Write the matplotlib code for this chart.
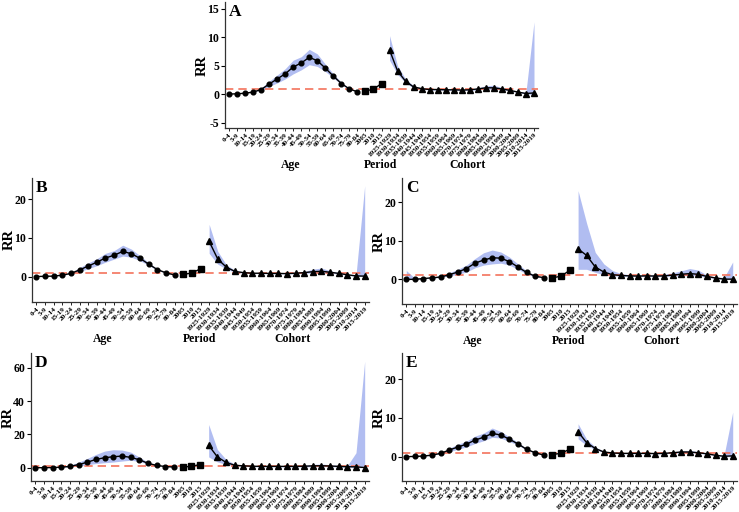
import numpy as np
import matplotlib
matplotlib.use("Agg")
import matplotlib.pyplot as plt
from matplotlib.transforms import blended_transform_factory

ages = ["0-4", "5-9", "10-14", "15-19", "20-24", "25-29", "30-34", "35-39", "40-44",
        "45-49", "50-54", "55-59", "60-64", "65-69", "70-74", "75-79", "80-84"]
periods = ["2005", "2010", "2015"]
cohorts = ["1925-1929", "1930-1934", "1935-1939", "1940-1944", "1945-1949", "1950-1954",
           "1955-1959", "1960-1964", "1965-1969", "1970-1974", "1975-1979", "1980-1984",
           "1985-1989", "1990-1994", "1995-1999", "2000-2004", "2005-2009", "2010-2014",
           "2015-2019"]

# ---- Panel A ----
age_A = [0.05, 0.1, 0.2, 0.4, 0.85, 1.8, 2.7, 3.6, 4.8, 5.5, 6.5, 5.9, 4.6, 3.2, 1.9, 0.95, 0.45]
age_lo_A = [0.05, 0.1, 0.2, 0.4, 0.8, 1.4, 2.0, 2.7, 3.6, 4.3, 5.2, 4.9, 4.0, 2.9, 1.7, 0.9, 0.4]
age_hi_A = [0.05, 0.1, 0.2, 0.45, 1.1, 2.3, 3.4, 4.5, 6.0, 6.6, 7.9, 7.1, 5.3, 3.6, 2.1, 1.0, 0.5]
per_A = [0.6, 0.9, 1.9]
coh_A = [7.8, 4.1, 2.3, 1.3, 1.0, 0.85, 0.85, 0.8, 0.8, 0.75, 0.8, 0.95, 1.15, 1.15, 0.95, 0.7, 0.4, 0.15, 0.25]
coh_lo_A = [6.0, 3.5, 2.0, 1.1, 0.9, 0.75, 0.75, 0.7, 0.7, 0.65, 0.7, 0.8, 0.9, 0.9, 0.8, 0.6, 0.3, 0.05, 0.0]
coh_hi_A = [10.3, 5.0, 2.7, 1.5, 1.15, 1.0, 0.95, 0.9, 0.9, 0.85, 0.95, 1.15, 1.5, 1.6, 1.2, 0.85, 0.5, 0.4, 12.7]

# ---- Panel B ----
age_B = [0.0, 0.05, 0.1, 0.35, 0.8, 1.7, 2.7, 3.7, 4.8, 5.5, 6.5, 5.9, 4.7, 3.2, 1.8, 0.95, 0.4]
age_lo_B = [0.0, 0.05, 0.1, 0.3, 0.7, 1.3, 2.0, 2.8, 3.7, 4.5, 5.3, 5.0, 4.1, 2.9, 1.6, 0.9, 0.35]
age_hi_B = [0.0, 0.05, 0.1, 0.4, 1.0, 2.3, 3.5, 4.6, 6.0, 6.7, 8.1, 7.1, 5.4, 3.6, 2.0, 1.0, 0.45]
per_B = [0.55, 0.9, 2.0]
coh_B = [9.1, 4.5, 2.4, 1.3, 1.0, 0.85, 0.85, 0.8, 0.8, 0.75, 0.85, 1.0, 1.25, 1.35, 1.1, 0.8, 0.45, 0.15, 0.1]
coh_lo_B = [6.0, 3.2, 1.9, 1.1, 0.85, 0.75, 0.75, 0.7, 0.7, 0.65, 0.7, 0.8, 0.95, 1.0, 0.85, 0.65, 0.3, 0.05, 0.0]
coh_hi_B = [13.5, 6.5, 3.0, 1.6, 1.2, 1.0, 0.95, 0.9, 0.9, 0.9, 1.0, 1.3, 1.9, 2.2, 1.5, 1.0, 0.6, 0.5, 23.5]

# ---- Panel C ----
age_C = [0.0, 0.0, 0.2, 0.4, 0.6, 1.2, 1.9, 2.8, 4.2, 5.0, 5.6, 5.5, 4.6, 3.2, 1.8, 0.8, 0.45]
age_lo_C = [0.0, 0.0, 0.1, 0.3, 0.5, 0.9, 1.3, 1.9, 3.0, 3.7, 4.0, 4.2, 3.7, 2.6, 1.4, 0.6, 0.35]
age_hi_C = [2.3, 0.3, 0.4, 0.6, 0.9, 1.7, 2.6, 3.7, 5.4, 6.9, 7.6, 7.1, 5.8, 4.0, 2.2, 1.0, 0.55]
per_C = [0.4, 0.8, 2.3]
coh_C = [7.9, 6.2, 3.2, 1.9, 1.2, 1.0, 0.9, 0.85, 0.9, 0.85, 0.9, 1.1, 1.3, 1.5, 1.3, 0.75, 0.35, 0.05, 0.05]
coh_lo_C = [2.6, 2.6, 1.8, 1.2, 0.9, 0.8, 0.75, 0.7, 0.75, 0.7, 0.75, 0.85, 0.9, 1.0, 0.9, 0.5, 0.2, 0.0, 0.0]
coh_hi_C = [23.0, 14.5, 7.0, 4.0, 2.3, 1.5, 1.2, 1.1, 1.2, 1.1, 1.3, 1.7, 2.2, 2.8, 2.4, 1.1, 0.6, 0.5, 4.5]

# ---- Panel D ----
age_D = [0.0, 0.0, 0.1, 0.3, 0.8, 1.9, 3.3, 5.0, 6.0, 6.6, 7.0, 6.2, 4.8, 2.6, 1.4, 0.7, 0.4]
age_lo_D = [0.0, 0.0, 0.05, 0.2, 0.5, 1.0, 1.8, 2.5, 3.0, 3.4, 4.0, 4.5, 3.8, 2.1, 1.2, 0.6, 0.3]
age_hi_D = [0.0, 0.0, 0.2, 0.5, 1.5, 3.3, 5.6, 8.0, 10.0, 10.8, 10.6, 9.4, 6.4, 3.3, 1.7, 0.9, 0.5]
per_D = [0.4, 0.8, 1.9]
coh_D = [13.5, 6.5, 3.2, 1.5, 1.1, 0.9, 0.8, 0.8, 0.8, 0.8, 0.8, 0.9, 1.1, 1.2, 1.0, 0.8, 0.6, 0.5, 0.1]
coh_lo_D = [6.5, 3.5, 2.0, 1.0, 0.8, 0.6, 0.5, 0.5, 0.5, 0.5, 0.5, 0.5, 0.6, 0.7, 0.6, 0.4, 0.2, 0.0, 0.0]
coh_hi_D = [26.0, 11.0, 5.0, 2.2, 1.5, 1.2, 1.1, 1.1, 1.1, 1.1, 1.2, 1.5, 2.0, 2.2, 1.8, 1.4, 1.2, 9.0, 64.0]

# ---- Panel E ----
age_E = [0.0, 0.05, 0.15, 0.4, 0.85, 1.7, 2.5, 3.2, 4.3, 5.0, 6.0, 5.6, 4.5, 3.3, 1.9, 1.0, 0.4]
age_lo_E = [0.0, 0.05, 0.1, 0.35, 0.75, 1.3, 1.9, 2.5, 3.4, 4.1, 5.0, 4.8, 3.9, 3.0, 1.7, 0.9, 0.35]
age_hi_E = [0.0, 0.05, 0.2, 0.5, 1.0, 2.2, 3.2, 4.0, 5.3, 6.1, 7.4, 6.5, 5.1, 3.7, 2.1, 1.1, 0.45]
per_E = [0.55, 0.85, 1.9]
coh_E = [6.4, 3.6, 2.1, 1.2, 0.95, 0.85, 0.85, 0.85, 0.85, 0.8, 0.85, 1.0, 1.2, 1.2, 1.0, 0.75, 0.35, 0.1, 0.2]
coh_lo_E = [4.6, 2.9, 1.8, 1.05, 0.85, 0.75, 0.75, 0.75, 0.75, 0.7, 0.75, 0.85, 1.0, 1.0, 0.85, 0.6, 0.25, 0.0, 0.0]
coh_hi_E = [8.5, 4.5, 2.5, 1.4, 1.1, 1.0, 0.95, 0.95, 0.95, 0.9, 1.0, 1.2, 1.5, 1.6, 1.3, 0.9, 0.5, 0.4, 11.5]

panels = {
    "A": (age_A, age_lo_A, age_hi_A, per_A, coh_A, coh_lo_A, coh_hi_A, (-5.9, 16.2), [-5, 0, 5, 10, 15]),
    "B": (age_B, age_lo_B, age_hi_B, per_B, coh_B, coh_lo_B, coh_hi_B, (-6.6, 25.5), [0, 10, 20]),
    "C": (age_C, age_lo_C, age_hi_C, per_C, coh_C, coh_lo_C, coh_hi_C, (-6.4, 26.3), [0, 10, 20]),
    "D": (age_D, age_lo_D, age_hi_D, per_D, coh_D, coh_lo_D, coh_hi_D, (-8.0, 69.0), [0, 20, 40, 60]),
    "E": (age_E, age_lo_E, age_hi_E, per_E, coh_E, coh_lo_E, coh_hi_E, (-6.3, 26.8), [0, 10, 20]),
}
group_labels = ["Age", "Period", "Cohort"]
show_group_labels = {"A": True, "B": True, "C": True, "D": False, "E": False}

# axes rectangles in pixels: left, right, top, bottom
W, H = 739, 512
rects = {
    "A": (225, 538, 2, 128),
    "B": (32, 369, 178, 302),
    "C": (402, 737, 178, 304),
    "D": (31, 369, 353, 481),
    "E": (402, 737, 353, 481),
}

SERIF = ["Liberation Serif", "DejaVu Serif"]
band_color = "#a9b6f0"
ref_color = "#f4735c"

fig = plt.figure(figsize=(W / 100, H / 100), dpi=100)
labels_all = ages + periods + cohorts
n_age, n_per, n_coh = len(ages), len(periods), len(cohorts)
xa = np.arange(n_age)
xp = np.arange(n_age, n_age + n_per)
xc = np.arange(n_age + n_per, n_age + n_per + n_coh)

for key, (a, alo, ahi, p, c, clo, chi, ylim, yt) in panels.items():
    l, r, t, b = rects[key]
    ax = fig.add_axes([l / W, 1 - b / H, (r - l) / W, (b - t) / H])
    ax.fill_between(xa, alo, ahi, color=band_color, lw=0, alpha=0.9)
    ax.fill_between(xc, clo, chi, color=band_color, lw=0, alpha=0.9)
    ax.axhline(1, color=ref_color, ls=(0, (5, 3)), lw=1.2, zorder=2)
    ax.plot(xa, a, color="black", lw=1.0, marker="o", ms=3.4, zorder=3)
    ax.plot(xp, p, color="black", lw=1.0, marker="s", ms=3.8, zorder=3)
    ax.plot(xc, c, color="black", lw=1.0, marker="^", ms=3.8, zorder=3)
    ax.set_xlim(-0.5, len(labels_all) - 0.5)
    ax.set_ylim(*ylim)
    ax.set_yticks(yt)
    ax.set_yticklabels([str(v) for v in yt], family=SERIF, fontweight="bold", fontsize=8.5)
    ax.set_xticks(np.arange(len(labels_all)))
    ax.set_xticklabels(labels_all, rotation=45, ha="right", va="top", rotation_mode="anchor",
                       family=SERIF, fontweight="bold", fontsize=5.2)
    ax.tick_params(axis="x", length=2, width=0.6, pad=1)
    ax.tick_params(axis="y", length=3, width=0.8, pad=1.2)
    for s in ["top", "right"]:
        ax.spines[s].set_visible(False)
    for s in ["left", "bottom"]:
        ax.spines[s].set_color("#333333")
        ax.spines[s].set_linewidth(0.9)
    fig.text((l - 23) / W, 1 - ((t + b) / 2) / H, "RR", rotation=90, ha="center", va="center",
             family=SERIF, fontweight="bold", fontsize=10.5)
    ax.text(0.012, 0.985, key, transform=ax.transAxes, family=SERIF, fontweight="bold",
            fontsize=12.5, ha="left", va="top")
    if show_group_labels[key]:
        tr = blended_transform_factory(ax.transData, fig.transFigure)
        ylab = 1 - (b + 37) / H
        for txt, xpos in zip(group_labels, [7.7, 18.9, 29.7]):
            ax.text(xpos, ylab, txt, transform=tr, family=SERIF, fontweight="bold",
                    fontsize=8.5, ha="center", va="center")

fig.savefig("out.png", dpi=100)
